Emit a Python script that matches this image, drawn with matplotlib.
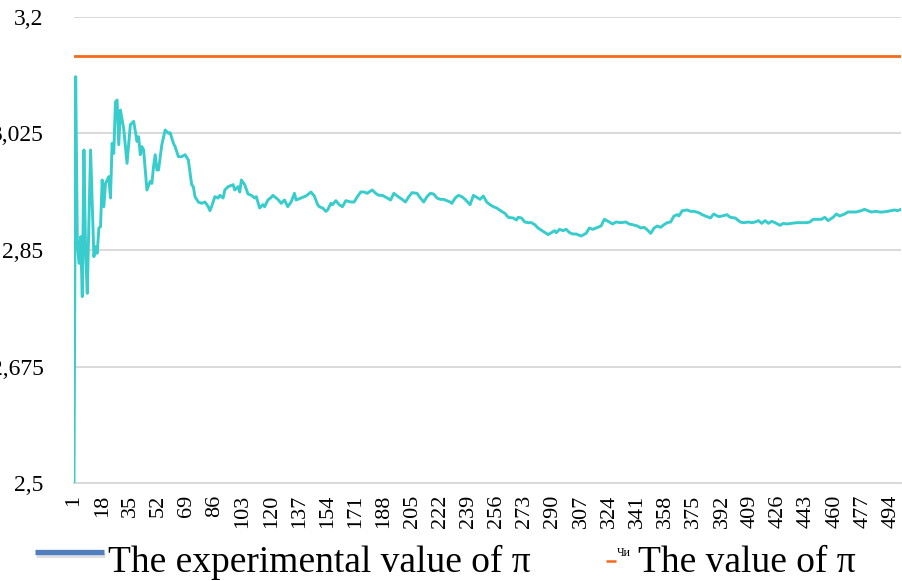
import matplotlib
matplotlib.use("Agg")
import matplotlib.pyplot as plt
from matplotlib.lines import Line2D

W, H = 902, 581
SERIF = "Liberation Serif"

# running estimate of pi after n trials (read off the run)
trial = [
    1, 2, 3, 4, 5, 6, 7, 8, 9, 11, 13, 14, 15, 16, 17, 18, 19, 20, 22, 23,
    24, 25, 26, 27, 28, 29, 31, 33, 35, 37, 39, 40, 41, 42, 43, 45, 47, 48, 49, 50,
    51, 52, 54, 56, 58, 59, 61, 62, 64, 66, 68, 70, 72, 73, 74, 76, 78, 80, 82, 83,
    84, 86, 88, 89, 91, 92, 94, 97, 98, 100, 101, 102, 104, 106, 108, 110, 111, 113, 115, 116,
    118, 120, 121, 123, 124, 126, 128, 130, 132, 134, 135, 138, 141, 144, 146, 148, 149, 151, 153, 154,
    156, 157, 159, 161, 163, 165, 168, 170, 172, 174, 176, 178, 179, 181, 183, 185, 187, 190, 192, 194,
    196, 199, 201, 203, 205, 208, 210, 212, 214, 216, 218, 220, 222, 224, 226, 228, 229, 231, 233, 235,
    237, 240, 242, 244, 246, 248, 250, 252, 254, 256, 259, 261, 263, 266, 268, 269, 271, 273, 275, 277,
    279, 281, 284, 286, 287, 289, 291, 292, 294, 296, 298, 300, 302, 304, 305, 307, 310, 312, 314, 317,
    319, 321, 324, 326, 328, 331, 334, 336, 338, 341, 343, 345, 347, 349, 351, 353, 355, 357, 359, 361,
    363, 365, 366, 368, 371, 373, 375, 378, 380, 383, 385, 387, 390, 392, 395, 397, 400, 403, 405, 408,
    410, 412, 414, 416, 418, 420, 422, 424, 427, 429, 431, 434, 437, 440, 443, 445, 447, 450, 452, 454,
    456, 459, 461, 463, 466, 468, 470, 473, 476, 478, 480, 482, 485, 487, 489, 492, 494, 496, 498, 500,
]
estimate = [
    2.500, 3.110, 2.865, 2.830, 2.870, 2.780, 3.000, 2.845, 2.785, 3.000, 2.840, 2.855, 2.845, 2.883, 2.885, 2.955, 2.915, 2.950, 2.960, 2.928,
    3.010, 2.995, 3.072, 3.075, 3.008, 3.060, 3.032, 2.980, 3.038, 3.043, 3.013, 3.020, 2.993, 3.005, 3.000, 2.940, 2.953, 2.950, 2.975, 2.993,
    2.970, 2.970, 3.008, 3.030, 3.025, 3.026, 3.010, 3.005, 2.990, 2.990, 2.993, 2.985, 2.948, 2.945, 2.930, 2.922, 2.920, 2.922, 2.915, 2.909,
    2.915, 2.930, 2.928, 2.932, 2.928, 2.940, 2.945, 2.948, 2.940, 2.945, 2.937, 2.955, 2.948, 2.934, 2.932, 2.928, 2.930, 2.913, 2.918, 2.915,
    2.925, 2.929, 2.932, 2.928, 2.926, 2.920, 2.925, 2.915, 2.922, 2.935, 2.925, 2.928, 2.931, 2.937, 2.931, 2.918, 2.915, 2.913, 2.908, 2.910,
    2.920, 2.918, 2.924, 2.918, 2.915, 2.924, 2.922, 2.922, 2.930, 2.937, 2.937, 2.935, 2.937, 2.940, 2.935, 2.932, 2.932, 2.928, 2.925, 2.935,
    2.931, 2.926, 2.922, 2.930, 2.936, 2.935, 2.928, 2.922, 2.930, 2.935, 2.934, 2.928, 2.926, 2.926, 2.924, 2.922, 2.920, 2.928, 2.932, 2.930,
    2.926, 2.918, 2.932, 2.929, 2.926, 2.931, 2.922, 2.918, 2.915, 2.913, 2.908, 2.905, 2.899, 2.898, 2.895, 2.899, 2.898, 2.892, 2.891, 2.891,
    2.888, 2.883, 2.878, 2.875, 2.873, 2.876, 2.879, 2.876, 2.881, 2.879, 2.881, 2.876, 2.874, 2.874, 2.873, 2.871, 2.875, 2.883, 2.881, 2.884,
    2.886, 2.896, 2.892, 2.889, 2.892, 2.891, 2.892, 2.889, 2.888, 2.886, 2.883, 2.884, 2.880, 2.875, 2.883, 2.886, 2.884, 2.888, 2.891, 2.892,
    2.901, 2.903, 2.901, 2.909, 2.910, 2.908, 2.908, 2.906, 2.903, 2.900, 2.898, 2.904, 2.900, 2.901, 2.903, 2.899, 2.898, 2.892, 2.891, 2.892,
    2.891, 2.892, 2.894, 2.890, 2.894, 2.890, 2.893, 2.891, 2.887, 2.890, 2.889, 2.890, 2.891, 2.891, 2.891, 2.892, 2.896, 2.896, 2.896, 2.899,
    2.894, 2.899, 2.904, 2.901, 2.904, 2.907, 2.907, 2.907, 2.909, 2.911, 2.909, 2.907, 2.908, 2.907, 2.907, 2.908, 2.909, 2.910, 2.909, 2.911,
]
pi_value = 3.14159
n_trials = 500

y_ticks = [2.5, 2.675, 2.85, 3.025, 3.2]
y_labels = ["2,5", "2,675", "2,85", "3,025", "3,2"]
x_ticks = list(range(1, n_trials + 1, 17))

CYAN = "#38CCCC"
ORANGE = "#F56A1C"
BLUE = "#4F7FBE"
GRID = "#D9D9D9"

fig = plt.figure(figsize=(W / 100, H / 100), dpi=100)
ax = fig.add_axes([74 / W, 1 - 483.3 / H, (901 - 74) / W, (483.3 - 16.7) / H])

ax.plot(trial, estimate, color=CYAN, lw=2.1, solid_joinstyle="round", zorder=3)
ax.plot([1, n_trials], [pi_value, pi_value], color=ORANGE, lw=2.0, zorder=3)

ax.set_xlim(1, n_trials)
ax.set_ylim(2.5, 3.2)
ax.set_yticks(y_ticks)
ax.set_yticklabels(y_labels, fontfamily=SERIF, fontsize=17)
ax.set_xticks(x_ticks)
ax.set_xticklabels([str(t) for t in x_ticks], rotation=90, fontfamily=SERIF, fontsize=16)
ax.tick_params(axis="y", length=0, pad=22)
ax.tick_params(axis="x", length=0, pad=8)

ax.grid(axis="y", color=GRID, lw=1.4)
ax.set_axisbelow(True)
for side in ("top", "right", "left"):
    ax.spines[side].set_visible(False)
ax.spines["bottom"].set_color(GRID)
ax.spines["bottom"].set_linewidth(1.4)

# legend row drawn by hand under the axis labels
def fx(px):
    return px / W

def fy(py):
    return 1 - py / H

fig.add_artist(Line2D([fx(36), fx(105)], [fy(554.5), fy(554.5)], transform=fig.transFigure,
                      color="#9AA3AE", lw=3.5, alpha=0.35, solid_capstyle="butt"))
fig.add_artist(Line2D([fx(35), fx(104)], [fy(552), fy(552)], transform=fig.transFigure,
                      color=BLUE, lw=3.8, solid_capstyle="butt"))
fig.text(fx(108), fy(572), "The experimental value of π", fontfamily=SERIF,
         fontsize=27, va="baseline", ha="left")

fig.add_artist(Line2D([fx(606), fx(616)], [fy(561), fy(561)], transform=fig.transFigure,
                      color=ORANGE, lw=1.8, solid_capstyle="butt"))
fig.text(fx(617), fy(556), "Чи", fontfamily=SERIF, fontsize=8.5, va="baseline", ha="left")
fig.text(fx(638), fy(572), "The value of π", fontfamily=SERIF,
         fontsize=27, va="baseline", ha="left")

fig.savefig("out.png", dpi=100)
